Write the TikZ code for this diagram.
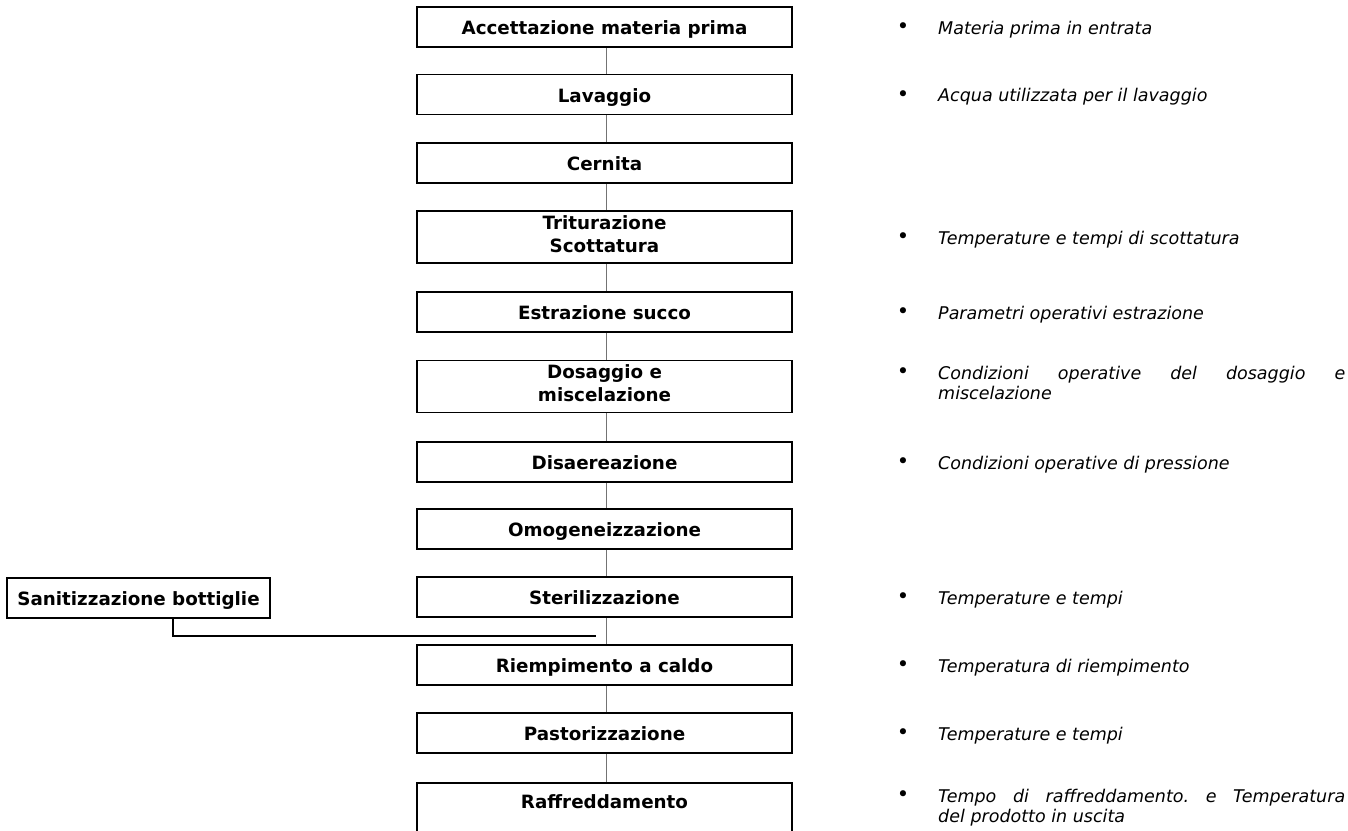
\documentclass[tikz,border=0pt]{standalone}
\usepackage{fontspec}
\setmainfont{DejaVu Sans}
\begin{document}
\frenchspacing
\begin{tikzpicture}[x=1pt,y=-1pt,
  stepbox/.style={draw=black, line width=1.9pt, minimum width=375pt, minimum height=40pt,
    inner sep=0pt, align=center, text height=15pt, text depth=0pt,
    font=\bfseries\fontsize{18.3}{23}\selectfont},
  twoline/.style={stepbox, minimum height=52pt, text height=32pt, text depth=2pt},
  sidebox/.style={stepbox, minimum width=263pt},
  link/.style={draw=black!55, line width=1pt},
  feed/.style={draw=black, line width=1.9pt},
  bul/.style={inner sep=0pt, font=\fontsize{21}{24}\selectfont},
  note/.style={inner sep=0pt, anchor=base west, font=\itshape\fontsize{17.5}{20.5}\selectfont},
  longnote/.style={note, text width=407pt, align=justify}
]
\useasboundingbox (0,0) rectangle (1348,830);
\clip (0,0) rectangle (1348,830);

% process steps
\node[stepbox] (s1) at (604.5,27) {Accettazione materia prima};
\node[stepbox] (s2) at (604.5,94.5) {Lavaggio};
\node[stepbox] (s3) at (604.5,163) {Cernita};
\node[twoline] (s4) at (604.5,237) {Triturazione\\Scottatura};
\node[stepbox] (s5) at (604.5,312) {Estrazione succo};
\node[twoline] (s6) at (604.5,386.5) {Dosaggio e\\miscelazione};
\node[stepbox] (s7) at (604.5,462) {Disaereazione};
\node[stepbox] (s8) at (604.5,529) {Omogeneizzazione};
\node[stepbox] (s9) at (604.5,597) {Sterilizzazione};
\node[stepbox] (s10) at (604.5,665) {Riempimento a caldo};
\node[stepbox] (s11) at (604.5,733) {Pastorizzazione};
\node[stepbox, anchor=north, minimum height=0pt, text height=26pt, text depth=40pt] (s12) at (604.5,782) {Raffreddamento};

% side step
\node[sidebox] (san) at (138.5,598) {Sanitizzazione bottiglie};

% connectors
\foreach \a/\b in {s1/s2,s2/s3,s3/s4,s4/s5,s5/s6,s6/s7,s7/s8,s8/s9,s9/s10,s10/s11,s11/s12}
  \draw[link] ([xshift=1.5pt]\a.south) -- ([xshift=1.5pt]\b.north);
\coordinate (join) at (596,636);
\draw[feed] ([xshift=34.5pt]san.south) |- (join);

% control parameters
\node[bul] (b1) at (903,28) {•};
\node[note] (n1) at (938,34) {Materia prima in entrata};
\node[bul] (b2) at (903,96) {•};
\node[note] (n2) at (938,101.5) {Acqua utilizzata per il lavaggio};
\node[bul] (b4) at (903,238) {•};
\node[note] (n4) at (938,244) {Temperature e tempi di scottatura};
\node[bul] (b5) at (903,313) {•};
\node[note] (n5) at (938,319) {Parametri operativi estrazione};
\node[bul] (b6) at (903,373) {•};
\node[longnote] (n6) at (938,379) {Condizioni operative del dosaggio e\linebreak miscelazione};
\node[bul] (b7) at (903,463) {•};
\node[note] (n7) at (938,469) {Condizioni operative di pressione};
\node[bul] (b9) at (903,598) {•};
\node[note] (n9) at (938,604) {Temperature e tempi};
\node[bul] (b10) at (903,666) {•};
\node[note] (n10) at (938,672) {Temperatura di riempimento};
\node[bul] (b11) at (903,734) {•};
\node[note] (n11) at (938,740) {Temperature e tempi};
\node[bul] (b12) at (903,796) {•};
\node[longnote] (n12) at (938,802) {Tempo di raffreddamento. e Temperatura\linebreak del prodotto in uscita};
\end{tikzpicture}
\end{document}
